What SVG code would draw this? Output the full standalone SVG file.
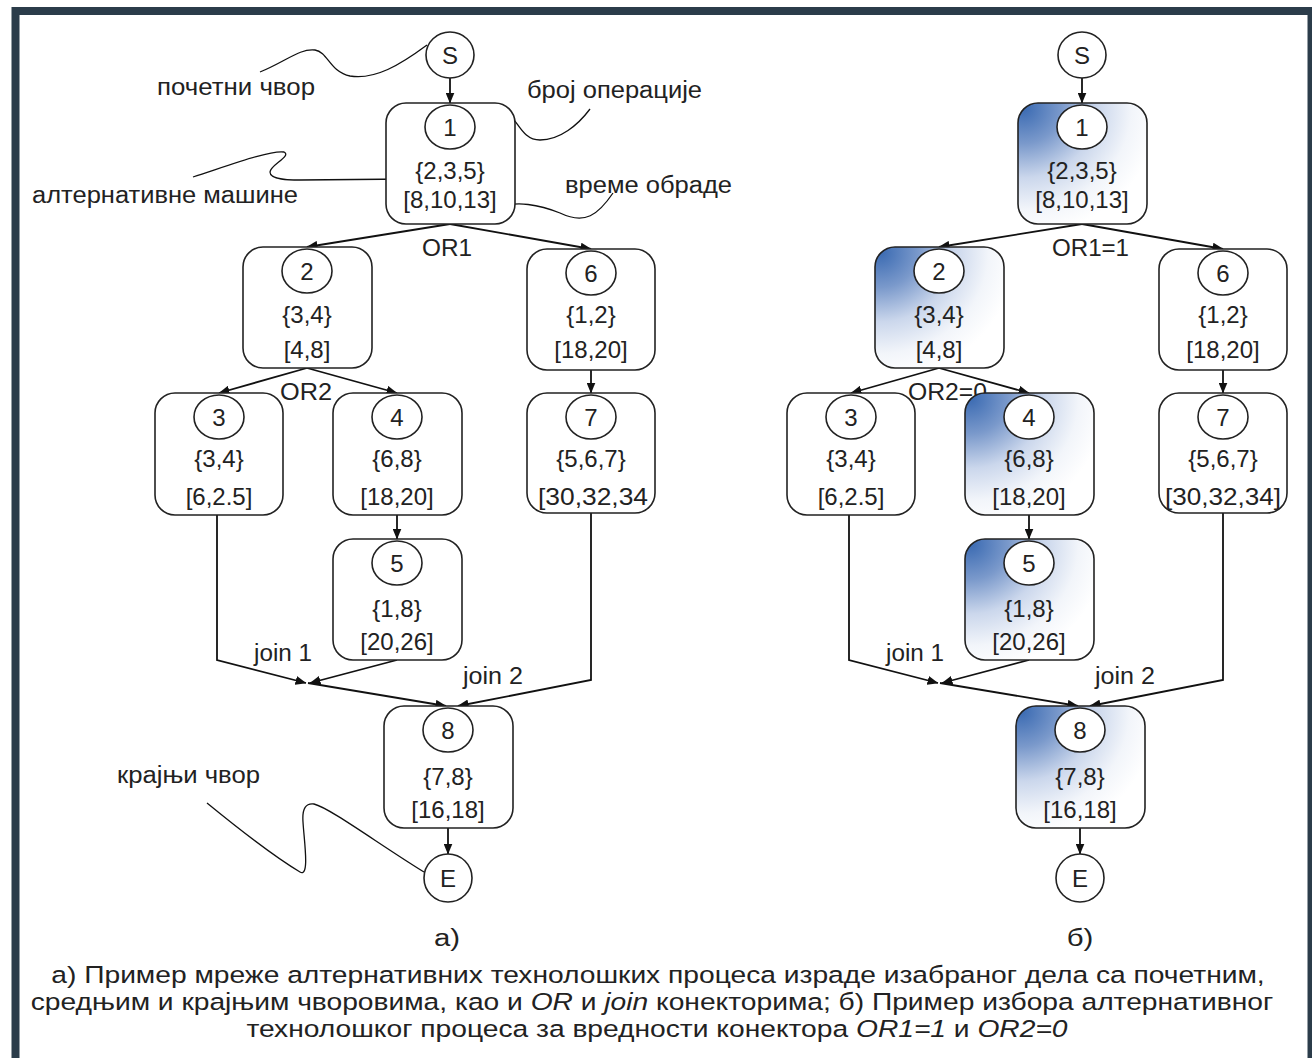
<svg xmlns="http://www.w3.org/2000/svg" width="1312" height="1058" viewBox="0 0 1312 1058">
<style>
text{font-family:"Liberation Sans",Arial,sans-serif;fill:#222;}
.nt{font-size:24px;text-anchor:middle;}
.lb{font-size:23px;}
.cap{font-size:23.5px;text-anchor:middle;}
.box{fill:#fff;stroke:#222;stroke-width:1.6;}
.gbox{fill:url(#g);stroke:#222;stroke-width:1.6;}
.cir{fill:#fff;stroke:#222;stroke-width:1.6;}
.ln{fill:none;stroke:#111;stroke-width:1.8;marker-end:url(#ah);}
.lead{fill:none;stroke:#111;stroke-width:1.3;}
</style>
<defs>
<marker id="ah" markerWidth="11" markerHeight="9" refX="10.5" refY="4.5" orient="auto" markerUnits="userSpaceOnUse">
<path d="M0,0 L11,4.5 L0,9 z" fill="#111"/>
</marker>
<radialGradient id="g" cx="0.04" cy="0.04" r="1.05" fx="0.04" fy="0.04">
<stop offset="0" stop-color="#3a6ab2"/>
<stop offset="0.28" stop-color="#7a99cb"/>
<stop offset="0.55" stop-color="#cbd7ec"/>
<stop offset="0.8" stop-color="#f2f5fa"/>
<stop offset="1" stop-color="#ffffff"/>
</radialGradient>
</defs>
<rect x="0" y="0" width="1312" height="1058" fill="#fff"/>
<rect x="15.5" y="11" width="1296" height="1060" fill="#fff" stroke="#2b3c4a" stroke-width="8"/>

<!-- connectors -->
<g id="connectors">
<path class="ln" d="M450,78 L450,103"/>
<path class="ln" d="M450,224 L307,247"/>
<path class="ln" d="M450,224 L591,249"/>
<path class="ln" d="M307,368 L219,393"/>
<path class="ln" d="M307,368 L397,393"/>
<path class="ln" d="M591,370 L591,393"/>
<path class="ln" d="M397,515 L397,539"/>
<path class="ln" d="M217,515 L217,660 L306,683"/>
<path class="ln" d="M397,660 L310,683"/>
<path class="ln" d="M308,683 L446,706"/>
<path class="ln" d="M591,513 L591,680 L458,706"/>
<path class="ln" d="M448,828 L448,854"/>

<path class="ln" d="M1082,78 L1082,103"/>
<path class="ln" d="M1082,224 L939,247"/>
<path class="ln" d="M1082,224 L1223,249"/>
<path class="ln" d="M939,368 L851,393"/>
<path class="ln" d="M939,368 L1029,393"/>
<path class="ln" d="M1223,370 L1223,393"/>
<path class="ln" d="M1029,515 L1029,539"/>
<path class="ln" d="M849,515 L849,660 L938,683"/>
<path class="ln" d="M1029,660 L942,683"/>
<path class="ln" d="M940,683 L1078,706"/>
<path class="ln" d="M1223,513 L1223,680 L1090,706"/>
<path class="ln" d="M1080,828 L1080,854"/>

<text class="lb" x="422" y="256" textLength="50" lengthAdjust="spacingAndGlyphs">OR1</text>
<text class="lb" x="280" y="400" textLength="52" lengthAdjust="spacingAndGlyphs">OR2</text>
<text class="lb" x="254" y="661" textLength="58" lengthAdjust="spacingAndGlyphs">join 1</text>
<text class="lb" x="463" y="684" textLength="60" lengthAdjust="spacingAndGlyphs">join 2</text>

<text class="lb" x="1052" y="256" textLength="77" lengthAdjust="spacingAndGlyphs">OR1=1</text>
<text class="lb" x="908" y="400" textLength="79" lengthAdjust="spacingAndGlyphs">OR2=0</text>
<text class="lb" x="886" y="661" textLength="58" lengthAdjust="spacingAndGlyphs">join 1</text>
<text class="lb" x="1095" y="684" textLength="60" lengthAdjust="spacingAndGlyphs">join 2</text>
</g>

<!-- annotations -->
<g id="annotations">
<path class="lead" d="M260,72 C285,62 300,48 315,50 C328,52 330,72 350,76 C375,80 400,65 427,45"/>
<path class="lead" d="M193,177 C230,165 270,150 284,152 C292,156 270,165 270,172 C270,180 290,180 300,180 L410,179"/>
<path class="lead" d="M475,128 C488,118 498,110 508,114 C518,120 522,140 540,140 C560,140 578,125 590,109"/>
<path class="lead" d="M500,208 C515,200 540,205 560,213 C585,225 598,215 613,193"/>
<path class="lead" d="M207,803 C240,830 280,860 300,872 C310,878 304,840 303,822 C302,808 306,803 314,804 C330,808 380,845 424,872"/>
<text class="lb" x="157" y="95" textLength="158" lengthAdjust="spacingAndGlyphs">почетни чвор</text>
<text class="lb" x="527" y="98" textLength="175" lengthAdjust="spacingAndGlyphs">број операције</text>
<text class="lb" x="32" y="203" textLength="266" lengthAdjust="spacingAndGlyphs">алтернативне машине</text>
<text class="lb" x="565" y="193" textLength="167" lengthAdjust="spacingAndGlyphs">време обраде</text>
<text class="lb" x="117" y="783" textLength="143" lengthAdjust="spacingAndGlyphs">крајњи чвор</text>
</g>

<!-- left panel nodes -->
<g id="a-S"><ellipse class="cir" cx="450" cy="55" rx="24" ry="23"/><text class="nt" x="450" y="64">S</text></g>
<g id="a-n1"><rect class="box" x="386" y="103" width="129" height="121" rx="20"/><ellipse class="cir" cx="450" cy="127" rx="25" ry="22"/><text class="nt" x="450" y="136">1</text><text class="nt" x="450" y="179">{2,3,5}</text><text class="nt" x="450" y="208">[8,10,13]</text></g>
<g id="a-n2"><rect class="box" x="243" y="247" width="129" height="121" rx="20"/><ellipse class="cir" cx="307" cy="271" rx="25" ry="22"/><text class="nt" x="307" y="280">2</text><text class="nt" x="307" y="323">{3,4}</text><text class="nt" x="307" y="358">[4,8]</text></g>
<g id="a-n6"><rect class="box" x="527" y="249" width="128" height="121" rx="20"/><ellipse class="cir" cx="591" cy="273" rx="25" ry="22"/><text class="nt" x="591" y="282">6</text><text class="nt" x="591" y="323">{1,2}</text><text class="nt" x="591" y="358">[18,20]</text></g>
<g id="a-n3"><rect class="box" x="155" y="393" width="128" height="122" rx="20"/><ellipse class="cir" cx="219" cy="417" rx="25" ry="22"/><text class="nt" x="219" y="426">3</text><text class="nt" x="219" y="467">{3,4}</text><text class="nt" x="219" y="505">[6,2.5]</text></g>
<g id="a-n4"><rect class="box" x="333" y="393" width="129" height="122" rx="20"/><ellipse class="cir" cx="397" cy="417" rx="25" ry="22"/><text class="nt" x="397" y="426">4</text><text class="nt" x="397" y="467">{6,8}</text><text class="nt" x="397" y="505">[18,20]</text></g>
<g id="a-n7"><rect class="box" x="527" y="393" width="128" height="120" rx="20"/><ellipse class="cir" cx="591" cy="417" rx="25" ry="22"/><text class="nt" x="591" y="426">7</text><text class="nt" x="591" y="467">{5,6,7}</text><text class="nt" x="538" y="505" style="text-anchor:start" textLength="110" lengthAdjust="spacingAndGlyphs">[30,32,34</text></g>
<g id="a-n5"><rect class="box" x="333" y="539" width="129" height="121" rx="20"/><ellipse class="cir" cx="397" cy="563" rx="25" ry="22"/><text class="nt" x="397" y="572">5</text><text class="nt" x="397" y="617">{1,8}</text><text class="nt" x="397" y="650">[20,26]</text></g>
<g id="a-n8"><rect class="box" x="384" y="706" width="129" height="122" rx="20"/><ellipse class="cir" cx="448" cy="730" rx="25" ry="22"/><text class="nt" x="448" y="739">8</text><text class="nt" x="448" y="785">{7,8}</text><text class="nt" x="448" y="818">[16,18]</text></g>
<g id="a-E"><ellipse class="cir" cx="448" cy="878" rx="24" ry="24"/><text class="nt" x="448" y="887">E</text></g>

<!-- right panel nodes -->
<g id="b-S"><ellipse class="cir" cx="1082" cy="55" rx="24" ry="23"/><text class="nt" x="1082" y="64">S</text></g>
<g id="b-n1"><rect class="gbox" x="1018" y="103" width="129" height="121" rx="20"/><ellipse class="cir" cx="1082" cy="127" rx="25" ry="22"/><text class="nt" x="1082" y="136">1</text><text class="nt" x="1082" y="179">{2,3,5}</text><text class="nt" x="1082" y="208">[8,10,13]</text></g>
<g id="b-n2"><rect class="gbox" x="875" y="247" width="129" height="121" rx="20"/><ellipse class="cir" cx="939" cy="271" rx="25" ry="22"/><text class="nt" x="939" y="280">2</text><text class="nt" x="939" y="323">{3,4}</text><text class="nt" x="939" y="358">[4,8]</text></g>
<g id="b-n6"><rect class="box" x="1159" y="249" width="128" height="121" rx="20"/><ellipse class="cir" cx="1223" cy="273" rx="25" ry="22"/><text class="nt" x="1223" y="282">6</text><text class="nt" x="1223" y="323">{1,2}</text><text class="nt" x="1223" y="358">[18,20]</text></g>
<g id="b-n3"><rect class="box" x="787" y="393" width="128" height="122" rx="20"/><ellipse class="cir" cx="851" cy="417" rx="25" ry="22"/><text class="nt" x="851" y="426">3</text><text class="nt" x="851" y="467">{3,4}</text><text class="nt" x="851" y="505">[6,2.5]</text></g>
<g id="b-n4"><rect class="gbox" x="965" y="393" width="129" height="122" rx="20"/><ellipse class="cir" cx="1029" cy="417" rx="25" ry="22"/><text class="nt" x="1029" y="426">4</text><text class="nt" x="1029" y="467">{6,8}</text><text class="nt" x="1029" y="505">[18,20]</text></g>
<g id="b-n7"><rect class="box" x="1159" y="393" width="128" height="120" rx="20"/><ellipse class="cir" cx="1223" cy="417" rx="25" ry="22"/><text class="nt" x="1223" y="426">7</text><text class="nt" x="1223" y="467">{5,6,7}</text><text class="nt" x="1223" y="505" textLength="116" lengthAdjust="spacingAndGlyphs">[30,32,34]</text></g>
<g id="b-n5"><rect class="gbox" x="965" y="539" width="129" height="121" rx="20"/><ellipse class="cir" cx="1029" cy="563" rx="25" ry="22"/><text class="nt" x="1029" y="572">5</text><text class="nt" x="1029" y="617">{1,8}</text><text class="nt" x="1029" y="650">[20,26]</text></g>
<g id="b-n8"><rect class="gbox" x="1016" y="706" width="129" height="122" rx="20"/><ellipse class="cir" cx="1080" cy="730" rx="25" ry="22"/><text class="nt" x="1080" y="739">8</text><text class="nt" x="1080" y="785">{7,8}</text><text class="nt" x="1080" y="818">[16,18]</text></g>
<g id="b-E"><ellipse class="cir" cx="1080" cy="878" rx="24" ry="24"/><text class="nt" x="1080" y="887">E</text></g>

<!-- captions -->
<g id="caption">
<text class="cap" transform="translate(447,946) scale(1.25,1)" x="0" y="0">а)</text>
<text class="cap" transform="translate(1080,946) scale(1.25,1)" x="0" y="0">б)</text>
<text class="cap" transform="translate(658,983) scale(1.2,1)" x="0" y="0">а) Пример мреже алтернативних технолошких процеса израде изабраног дела са почетним,</text>
<text class="cap" transform="translate(652,1010) scale(1.2,1)" x="0" y="0">средњим и крајњим чворовима, као и <tspan font-style="italic">OR</tspan> и <tspan font-style="italic">join</tspan> конекторима; б) Пример избора алтернативног</text>
<text class="cap" transform="translate(657,1037) scale(1.2,1)" x="0" y="0">технолошког процеса за вредности конектора <tspan font-style="italic">OR1=1</tspan> и <tspan font-style="italic">OR2=0</tspan></text>
</g>
</svg>
